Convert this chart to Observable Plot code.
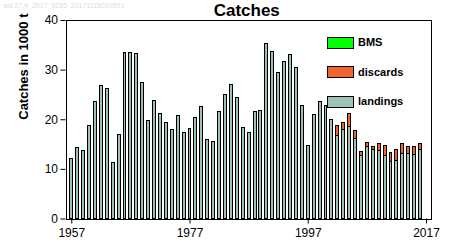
<!DOCTYPE html>
<html><head><meta charset="utf-8">
<script src="https://cdn.jsdelivr.net/npm/d3@7"></script>
<script src="https://cdn.jsdelivr.net/npm/@observablehq/plot@0.6"></script>
<style>body{margin:0;background:#fff;}</style>
</head><body><div id="chart"></div>
<script>
const years = [1957,1958,1959,1960,1961,1962,1963,1964,1965,1966,1967,1968,1969,1970,1971,1972,1973,1974,1975,1976,
  1977,1978,1979,1980,1981,1982,1983,1984,1985,1986,1987,1988,1989,1990,1991,1992,1993,1994,1995,1996,
  1997,1998,1999,2000,2001,2002,2003,2004,2005,2006,2007,2008,2009,2010,2011,2012,2013,2014,2015,2016];
const landings = [12.0,14.3,13.8,18.7,23.6,26.9,26.1,11.2,17.0,33.4,33.4,33.2,27.5,19.7,23.8,21.1,19.3,17.9,20.7,17.3,
  18.1,20.3,22.6,15.9,15.5,21.5,24.9,27.0,24.4,18.3,17.3,21.5,21.7,35.2,33.6,29.4,31.6,33.0,30.5,22.7,
  14.8,20.9,23.5,22.7,19.9,16.8,17.9,18.6,16.2,12.7,14.6,14.0,13.8,12.6,11.4,11.6,13.0,13.0,12.8,14.0];
const discards = [0,0,0,0,0,0,0,0,0,0,0,0,0,0,0,0,0,0,0,0,
  0,0,0,0,0,0,0,0,0,0,0,0,0,0,0,0,0,0,0,0,
  0,0,0,0,0,1.9,1.4,2.5,1.5,0.9,0.8,0.6,1.4,2.2,1.8,2.4,2.2,1.6,1.8,1.2];
const xTicks = [1957,1977,1997,2017];
const yTicks = [0,10,20,30,40];
const legendLabels = ["BMS","discards","landings"];
const legendColors = ["#00ff00","#f26432","#9dc3b7"];
const stamp = "sol.27.4  2017  9255  20171115010501";

const rows = years.map((y,i)=>({year:y, landings:landings[i], discards:discards[i]}));
const hw = 0.25;

const svg = Plot.plot({
  width:450, height:250,
  marginLeft:65.5, marginRight:19, marginTop:20, marginBottom:31.5,
  style:{fontFamily:"'Liberation Sans', Arial, sans-serif", fontSize:"12px", background:"white", color:"black", overflow:"visible"},
  x:{domain:[1956.02,2017.85], ticks:xTicks, tickFormat:d=>String(d), tickSize:5, tickPadding:4, label:null},
  y:{domain:[0,40], ticks:yTicks, tickSize:5, tickPadding:3, label:null},
  marks:[
    Plot.rect(rows,{x1:d=>d.year-hw, x2:d=>d.year+hw, y1:0, y2:"landings", fill:legendColors[2], stroke:"black", strokeWidth:1, shapeRendering:"crispEdges"}),
    Plot.rect(rows.filter(d=>d.discards>0),{x1:d=>d.year-hw, x2:d=>d.year+hw, y1:"landings", y2:d=>d.landings+d.discards, fill:legendColors[1], stroke:"black", strokeWidth:1, shapeRendering:"crispEdges"}),
    Plot.frame({stroke:"black", strokeWidth:1, shapeRendering:"crispEdges"}),
    Plot.text(["Catches"],{frameAnchor:"top", lineAnchor:"middle", dy:-10, dx:-2, fontSize:17, fontWeight:"bold"}),
    Plot.text(["Catches in 1000 t"],{frameAnchor:"left", lineAnchor:"middle", rotate:-90, dx:-42.5, fontSize:13, fontWeight:"bold"}),
    Plot.text([stamp],{frameAnchor:"top-left", lineAnchor:"middle", textAnchor:"start", dx:-62.5, dy:-14.5, fontSize:7, fill:"#dcdcdc"})
  ]
});
document.getElementById("chart").appendChild(svg);

const lg = d3.select(svg).append("g").attr("text-anchor","start");
legendLabels.forEach((lab,i)=>{
  const y0 = 37 + i*29.5;
  lg.append("rect").attr("x",327.5).attr("y",y0).attr("width",26).attr("height",11)
    .attr("fill",legendColors[i]).attr("stroke","black").attr("shape-rendering","crispEdges");
  lg.append("text").attr("x",358).attr("y",y0+5.5).attr("dy","0.35em").attr("text-anchor","start")
    .attr("font-size",11).attr("font-weight","bold").attr("fill","black").text(lab);
});
</script>
</body></html>
